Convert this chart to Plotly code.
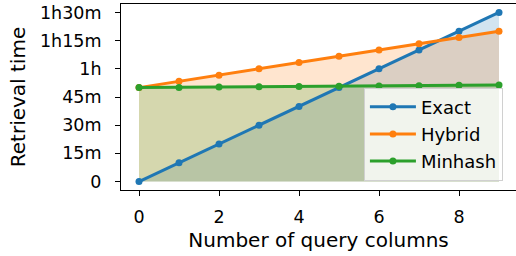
import plotly.graph_objects as go

query_columns = [0, 1, 2, 3, 4, 5, 6, 7, 8, 9]
exact = [0, 10, 20, 30, 40, 50, 60, 70, 80, 90]
hybrid = [50, 53.4, 56.6, 60.1, 63.4, 66.7, 70, 73.4, 76.7, 80]
minhash = [50, 50.1, 50.3, 50.4, 50.6, 50.7, 50.9, 51.0, 51.2, 51.4]
series_names = ["Exact", "Hybrid", "Minhash"]
series_values = [exact, hybrid, minhash]
colors = ["#1f77b4", "#ff7f0e", "#2ca02c"]
fills = ["rgba(31,119,180,0.2)", "rgba(255,127,14,0.2)", "rgba(44,160,44,0.2)"]
ytick_vals = [0, 15, 30, 45, 60, 75, 90]
ytick_text = ["0", "15m", "30m", "45m", "1h", "1h15m", "1h30m"]
xtick_vals = [0, 2, 4, 6, 8]

font = "DejaVu Sans"
fig = go.Figure()
for name, vals, fc in zip(series_names, series_values, fills):
    fig.add_trace(go.Scatter(x=query_columns, y=vals, fill="tozeroy", fillcolor=fc,
                             mode="none", showlegend=False, hoverinfo="skip"))
for name, vals, c in zip(series_names, series_values, colors):
    fig.add_trace(go.Scatter(x=query_columns, y=vals, name=name, mode="lines+markers",
                             legendgroup=name,
                             line=dict(color=c, width=3), marker=dict(color=c, size=7)))

fig.update_layout(
    width=516, height=256,
    margin=dict(l=121, r=0, t=4, b=65.5, autoexpand=False),
    paper_bgcolor="white", plot_bgcolor="white",
    font=dict(family=font, size=17.5, color="black"),
    legend=dict(x=0.615, y=0.051, xanchor="left", yanchor="bottom",
                bgcolor="rgba(255,255,255,0.8)", bordercolor="#d0d0d0", borderwidth=1,
                font=dict(size=18), tracegroupgap=0.8, traceorder="grouped", itemwidth=46),
    xaxis=dict(range=[-0.45, 9.425], tickvals=xtick_vals, showgrid=False, zeroline=False,
               showline=True, linecolor="black", linewidth=1, mirror=True,
               ticks="outside", ticklen=5, tickcolor="black", ticklabelstandoff=6,
               title=dict(text="Number of query columns", font=dict(size=20), standoff=6)),
    yaxis=dict(range=[-4.5, 94.5], tickvals=ytick_vals, ticktext=ytick_text, showgrid=False,
               zeroline=False, showline=True, linecolor="black", linewidth=1,
               ticks="outside", ticklen=5, tickcolor="black", ticklabelstandoff=10,
               title=dict(text="Retrieval time", font=dict(size=20), standoff=8)),
)
fig.write_html("out.html", config={"displayModeBar": False},
               post_script="document.body.style.margin='0';")
